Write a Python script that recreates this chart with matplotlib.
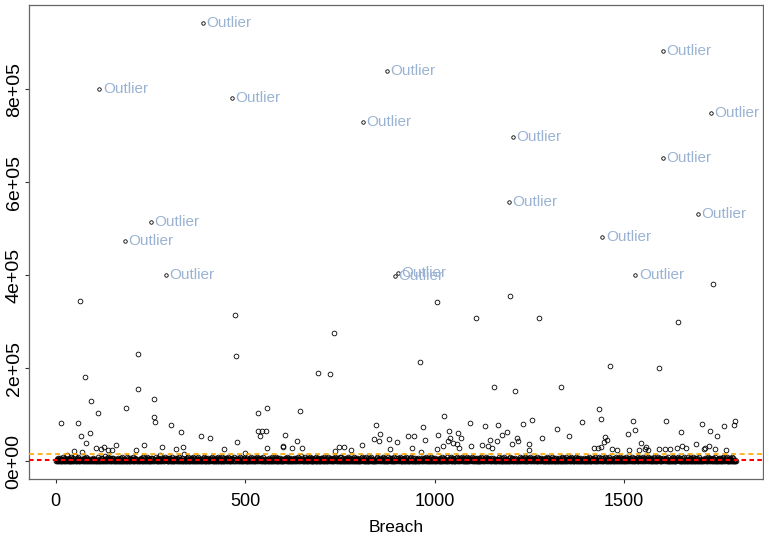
import numpy as np
import matplotlib
matplotlib.use("Agg")
import matplotlib.pyplot as plt

plt.rcParams['font.family'] = ['Liberation Sans', 'DejaVu Sans']

# low-level records, one digit per breach (value = digit * 2200)
band_codes = (
    "01203100210301200142100302110620103200140210031205"
    "10023014102031002107120031024100312010032140012031"
    "20100130201400210310023100125010203100412003102130"
    "03110200142001302100312400102013002104031020031201"
    "12004100231020031500210312001400213012004130021003"
    "00213001203104200131002016031002130021401203001320"
    "31002014020013210030120410021300310201702001302104"
    "10200312014002130010230140021200310023104120003102"
    "01300210031240010230100231040021310002410030210312"
    "20014103200103120021430012003102201400131002031280"
    "02100310021300241012003120013042100230100321004120"
    "10032014002103100214001302031024001300211030120042"
    "01023001402013002130100420132001031002412001350120"
    "30010214001230010320410200310021301400203100210013"
    "02301004210031020140210031200130200410300120310204"
    "14002100312001300120403100210312001400231002031020"
    "00210314002103002140013002100312400102003101200431"
    "20103001201043100230012001400231002103200401201030"
    "13002014200310021003120041032000130214002130010302"
    "01200310024100230110302014003120001321040021300120"
    "31002400130200312004102003120014031020031024001300"
    "02100312040013002103140021032001300410023100210403"
    "10021300410230010320014003100213002401200312001030"
    "20310041020013200140210031002301400210031200310240"
    "01203010024130020031001240310200310021402010320013"
    "14002100312001320140021003100213400120031020041300"
    "00312001402100310203004100213001203400102300120410"
    "21003100240130021003140200132001031200412001300210"
    "01300214003100210320014002100312004103020013002140"
    "10203100412003102130021003140200130021041300210320"
    "30012400130200310210401200310021301400203100201340"
    "02100310021400230120031200140310021300240120031002"
    "14031002100320014003100213004102300120031402100310"
    "01200341002013002140100320130041200310021300210401"
    "21003100240130201003142001302001031200412001302103"
    "013002100431002103200140021003120041030200130"
)

# visible scattered records between the band and the outliers
mid_breach = [14, 48, 59, 63, 66, 70, 76, 80, 90, 93, 107, 111, 119, 128, 138,
              148, 160, 185, 212, 216, 218, 233, 259, 260, 261, 280, 305, 318,
              330, 336, 383, 408, 445, 472, 475, 478, 533, 535, 540, 544, 554,
              557, 558, 599, 600, 606, 624, 636, 645, 650, 692, 723, 734, 738,
              748, 761, 778, 809, 841, 845, 854, 857, 879, 882, 900, 929, 941,
              946, 961, 964, 968, 974, 1006, 1007, 1010, 1021, 1025, 1034, 1039,
              1041, 1049, 1058, 1062, 1063, 1069, 1094, 1097, 1109, 1124, 1134,
              1140, 1146, 1152, 1157, 1164, 1166, 1179, 1190, 1198, 1204, 1211,
              1217, 1219, 1232, 1248, 1249, 1258, 1275, 1283, 1323, 1333, 1354,
              1389, 1420, 1432, 1434, 1439, 1440, 1446, 1451, 1456, 1464, 1467,
              1482, 1511, 1514, 1523, 1528, 1540, 1544, 1554, 1559, 1563, 1591,
              1593, 1607, 1610, 1620, 1639, 1643, 1649, 1653, 1664, 1691, 1705,
              1710, 1714, 1725, 1726, 1735, 1740, 1745, 1764, 1770, 1790, 1794]
mid_value = [83500, 22200, 83500, 345500, 54000, 20800, 180500, 40100, 60700,
             130500, 29400, 105000, 25700, 31500, 24300, 24300, 36000, 114400,
             24300, 156700, 231800, 35800, 95000, 133700, 84400, 31500, 78000,
             25700, 63000, 31500, 55000, 49400, 26400, 315400, 227500, 42200,
             66500, 105100, 55000, 66500, 66500, 27900, 115900, 32800, 31000,
             56400, 29400, 43600, 108800, 27900, 189500, 187400, 276100, 22200,
             31500, 31500, 25000, 35800, 48700, 77300, 44400, 59400, 48700,
             26400, 42200, 55000, 27900, 55000, 214600, 19300, 75100, 45700,
             26400, 342700, 56400, 33700, 97200, 43600, 64400, 50900, 38600,
             36500, 60100, 29400, 49400, 82200, 32800, 307500, 35000, 75800,
             32200, 46600, 29400, 160300, 43600, 79400, 56400, 63700, 354800,
             38000, 150900, 49400, 43600, 80900, 38000, 25100, 90100, 307500,
             50000, 68700, 160300, 53700, 85200, 29400, 28500, 113100, 30700,
             91600, 42300, 53000, 45100, 206000, 27300, 23600, 59400, 23600,
             87300, 68000, 23600, 40100, 25800, 31500, 24300, 27000, 201000,
             26000, 87300, 27500, 29400, 300400, 63700, 33700, 29400, 36500,
             80900, 26000, 29400, 33700, 65000, 381000, 27300, 55000, 75800,
             24300, 79400, 86500]

outlier_breach = [115, 182, 252, 290, 389, 465, 811, 873, 895, 904,
                  1196, 1207, 1443, 1530, 1602, 1603, 1695, 1730]
outlier_value = [799800, 475000, 515000, 399800, 943600, 780500, 729600,
                 839800, 397700, 405000, 558600, 698100, 483500, 400600,
                 882700, 652400, 531600, 749600]

mean_line = 17000
median_line = 2800

x_ticks = [0, 500, 1000, 1500]
y_ticks = [0, 200000, 400000, 600000, 800000]
y_tick_labels = ["0e+00", "2e+05", "4e+05", "6e+05", "8e+05"]

# build the series
n = len(band_codes)
breach = np.arange(1, n + 1)
records = np.array([int(c) * 2200 for c in band_codes], dtype=float)
for b, v in zip(mid_breach, mid_value):
    records[b - 1] = v
is_out = np.zeros(n, dtype=bool)
for b, v in zip(outlier_breach, outlier_value):
    records[b - 1] = v
    is_out[b - 1] = True

fig = plt.figure(figsize=(7.64, 5.43), dpi=100)
ax = fig.add_axes([29 / 764, 64 / 543, 734 / 764, 474 / 543])

ax.plot(breach[~is_out], records[~is_out], 'o', mfc='none', mec='black',
        ms=3.4, mew=0.6, zorder=2)
ax.plot(breach[is_out], records[is_out], 'o', mfc='none', mec='black',
        ms=2.5, mew=0.6, zorder=2)

ax.axhline(mean_line, color='#FFA500', lw=1.2, dashes=(3, 2.2), zorder=3)
ax.axhline(median_line, color='#FF0000', lw=1.5, dashes=(2.2, 1.6), zorder=3)

for b, v in zip(outlier_breach, outlier_value):
    ax.annotate("Outlier", (b, v), xytext=(2.5, 0), textcoords='offset points',
                va='center', ha='left', fontsize=11, color='#9AB3D3')

# R-style 4% padding
ax.set_xlim(1 - 0.04 * (n - 1), n + 0.04 * (n - 1))
ymax = records.max()
ax.set_ylim(-0.04 * ymax, ymax * 1.04)

ax.set_xticks(x_ticks)
ax.set_xticklabels([str(t) for t in x_ticks], fontsize=13)
ax.set_yticks(y_ticks)
ax.set_yticklabels(y_tick_labels, fontsize=14, rotation=90, va='center')
ax.tick_params(axis='x', length=3, width=0.8, pad=6.8, colors='#333333')
ax.tick_params(axis='y', length=3, width=0.8, pad=1.5, colors='#333333')
for lab in ax.get_xticklabels() + ax.get_yticklabels():
    lab.set_color('black')

for s in ax.spines.values():
    s.set_color('#666666')
    s.set_linewidth(0.9)

ax.set_xlabel("Breach", fontsize=12.5, labelpad=7.8)

fig.savefig("out.png", dpi=100)
